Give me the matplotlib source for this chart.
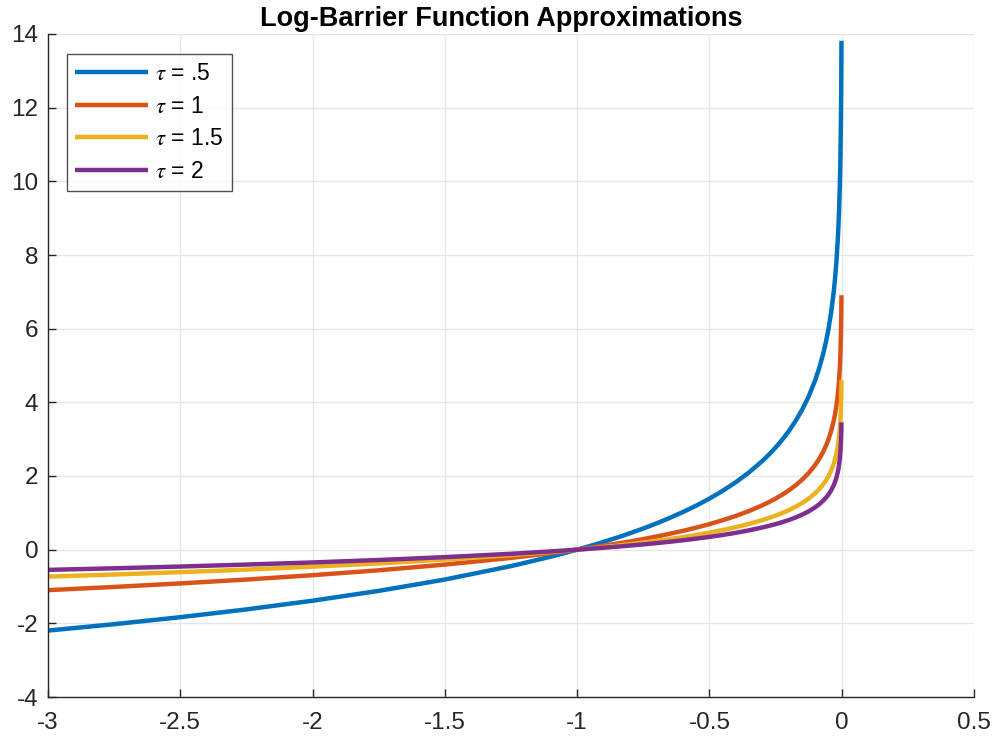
import matplotlib
matplotlib.use("Agg")
import matplotlib.pyplot as plt

plt.rcParams['font.family'] = ['Liberation Sans', 'DejaVu Sans']
plt.rcParams['axes.unicode_minus'] = False
plt.rcParams['mathtext.fontset'] = 'stix'

x_vals = [-3.0, -2.75, -2.5, -2.25, -2.0, -1.75, -1.5, -1.25, -1.1, -1.05, -1.0, -0.95, -0.9,
          -0.85, -0.8, -0.75, -0.7, -0.65, -0.6, -0.55, -0.5, -0.45, -0.4, -0.35, -0.3,
          -0.275, -0.25, -0.225, -0.2, -0.175, -0.15, -0.125, -0.1, -0.085, -0.07, -0.06,
          -0.05, -0.04, -0.03, -0.025, -0.02, -0.015, -0.012, -0.01, -0.007, -0.005, -0.003,
          -0.002, -0.0015, -0.001]
y_tau05 = [-2.197, -2.023, -1.833, -1.622, -1.386, -1.119, -0.811, -0.446, -0.191, -0.098, 0.0,
           0.103, 0.211, 0.325, 0.446, 0.575, 0.713, 0.862, 1.022, 1.196, 1.386, 1.597, 1.833,
           2.100, 2.408, 2.582, 2.773, 2.983, 3.219, 3.486, 3.794, 4.159, 4.605, 4.930, 5.319,
           5.627, 5.991, 6.438, 7.013, 7.378, 7.824, 8.399, 8.846, 9.210, 9.924, 10.597,
           11.618, 12.429, 13.004, 13.816]
y_tau1 = [-1.099, -1.012, -0.916, -0.811, -0.693, -0.560, -0.405, -0.223, -0.095, -0.049, 0.0,
          0.051, 0.105, 0.163, 0.223, 0.288, 0.357, 0.431, 0.511, 0.598, 0.693, 0.799, 0.916,
          1.050, 1.204, 1.291, 1.386, 1.492, 1.609, 1.743, 1.897, 2.079, 2.303, 2.465, 2.659,
          2.813, 2.996, 3.219, 3.507, 3.689, 3.912, 4.200, 4.423, 4.605, 4.962, 5.298, 5.809,
          6.215, 6.502, 6.908]
y_tau15 = [-0.732, -0.674, -0.611, -0.541, -0.462, -0.373, -0.270, -0.149, -0.064, -0.033, 0.0,
           0.034, 0.070, 0.108, 0.149, 0.192, 0.238, 0.287, 0.341, 0.399, 0.462, 0.532, 0.611,
           0.700, 0.803, 0.861, 0.924, 0.994, 1.073, 1.162, 1.265, 1.386, 1.535, 1.643, 1.773,
           1.876, 1.997, 2.146, 2.338, 2.459, 2.608, 2.800, 2.949, 3.070, 3.308, 3.532, 3.873,
           4.143, 4.335, 4.605]
y_tau2 = [-0.549, -0.506, -0.458, -0.405, -0.347, -0.280, -0.203, -0.112, -0.048, -0.024, 0.0,
          0.026, 0.053, 0.081, 0.112, 0.144, 0.178, 0.215, 0.255, 0.299, 0.347, 0.399, 0.458,
          0.525, 0.602, 0.646, 0.693, 0.746, 0.805, 0.872, 0.949, 1.040, 1.151, 1.233, 1.330,
          1.407, 1.498, 1.609, 1.753, 1.844, 1.956, 2.100, 2.211, 2.303, 2.481, 2.649, 2.905,
          3.107, 3.251, 3.454]

labels = [r'$\tau$ = .5', r'$\tau$ = 1', r'$\tau$ = 1.5', r'$\tau$ = 2']
colors = ['#0072BD', '#D95319', '#EDB120', '#7E2F8E']
series = [y_tau05, y_tau1, y_tau15, y_tau2]

xticks = [-3, -2.5, -2, -1.5, -1, -0.5, 0, 0.5]
xticklabels = ['-3', '-2.5', '-2', '-1.5', '-1', '-0.5', '0', '0.5']
yticks = [-4, -2, 0, 2, 4, 6, 8, 10, 12, 14]

fig = plt.figure(figsize=(9.99, 7.42), dpi=100)
ax = fig.add_axes([48/999, 1 - 697/742, (974-48)/999, (697-34)/742])

for ys, c, lab in zip(series, colors, labels):
    ax.plot(x_vals, ys, color=c, lw=3.2, label=lab, solid_capstyle='butt',
            solid_joinstyle='round')

ax.set_xlim(-3, 0.5)
ax.set_ylim(-4, 14)
ax.set_xticks(xticks)
ax.set_xticklabels(xticklabels)
ax.set_yticks(yticks)
ax.grid(True, color='#e6e6e6', lw=1)
ax.set_axisbelow(True)
for s in ['top', 'right']:
    ax.spines[s].set_visible(False)
for s in ['left', 'bottom']:
    ax.spines[s].set_color('#262626')
    ax.spines[s].set_linewidth(1)
ax.tick_params(direction='in', length=6, width=1, colors='#262626', labelsize=17.5,
               labelcolor='#262626', pad=11)
ax.tick_params(axis='y', pad=7)
ax.set_title('Log-Barrier Function Approximations', fontsize=19.5, fontweight='bold', pad=6,
             x=0.49)

leg = ax.legend(loc='upper left', bbox_to_anchor=(19/926, 1 - 20/663), fontsize=16.5,
                frameon=True, fancybox=False, edgecolor='#262626', handlelength=3.2,
                borderpad=0.35, labelspacing=0.42, handletextpad=0.3, borderaxespad=0)
leg.get_frame().set_linewidth(1)

fig.savefig('out.png', dpi=100, facecolor='white')
